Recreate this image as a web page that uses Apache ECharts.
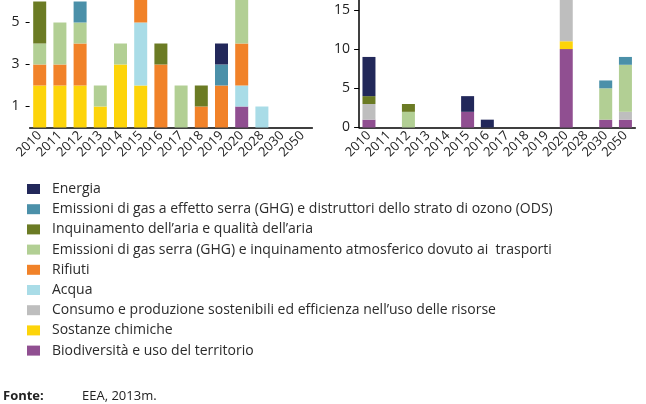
<!DOCTYPE html>
<html>
<head>
<meta charset="utf-8">
<script src="https://cdn.jsdelivr.net/npm/echarts@6/dist/echarts.min.js"></script>
<style>
html,body{margin:0;padding:0;background:#fff;}
#c{width:646px;height:404px;}
</style>
</head>
<body>
<div id="c"></div>
<script>
// Categories (years), same for both panels
var categories = ['2010','2011','2012','2013','2014','2015','2016','2017','2018','2019','2020','2028','2030','2050'];

// Series names (stack order bottom -> top)
var seriesNames = [
  'Biodiversità e uso del territorio',
  'Sostanze chimiche',
  'Consumo e produzione sostenibili ed efficienza nell\u2019uso delle risorse',
  'Acqua',
  'Rifiuti',
  'Emissioni di gas serra (GHG) e inquinamento atmosferico dovuto ai  trasporti',
  'Inquinamento dell\u2019aria e qualità dell\u2019aria',
  'Emissioni di gas a effetto serra (GHG) e distruttori dello strato di ozono (ODS)',
  'Energia'
];
var seriesColors = ['#904f91','#fdd40a','#bebebe','#a9dce7','#f18229','#b2cf94','#6b7b24','#4b90a9','#22285a'];

// Left panel values
var leftBiodiversita = [0,0,0,0,0,0,0,0,0,0,1,0,0,0];
var leftSostanze     = [2,2,2,1,3,2,0,0,0,0,0,0,0,0];
var leftConsumo      = [0,0,0,0,0,0,0,0,0,0,0,0,0,0];
var leftAcqua        = [0,0,0,0,0,3,0,0,0,0,1,1,0,0];
var leftRifiuti      = [1,1,2,0,0,2,3,0,1,2,2,0,0,0];
var leftTrasporti    = [1,2,1,1,1,0,0,2,0,0,3,0,0,0];
var leftInquinamento = [2,0,0,0,0,0,1,0,1,0,0,0,0,0];
var leftODS          = [0,0,1,0,0,0,0,0,0,1,0,0,0,0];
var leftEnergia      = [0,0,0,0,0,0,0,0,0,1,0,0,0,0];

// Right panel values
var rightBiodiversita = [1,0,0,0,0,2,0,0,0,0,10,0,1,1];
var rightSostanze     = [0,0,0,0,0,0,0,0,0,0,1,0,0,0];
var rightConsumo      = [2,0,0,0,0,0,0,0,0,0,7,0,0,1];
var rightAcqua        = [0,0,0,0,0,0,0,0,0,0,0,0,0,0];
var rightRifiuti      = [0,0,0,0,0,0,0,0,0,0,0,0,0,0];
var rightTrasporti    = [0,0,2,0,0,0,0,0,0,0,0,0,4,6];
var rightInquinamento = [1,0,1,0,0,0,0,0,0,0,0,0,0,0];
var rightODS          = [0,0,0,0,0,0,0,0,0,0,0,0,1,1];
var rightEnergia      = [5,0,0,0,0,2,1,0,0,0,0,0,0,0];

// Tick labels
var leftTicks = [1,3,5,7];
var rightTicks = [0,5,10,15,20];

var leftData = [leftBiodiversita,leftSostanze,leftConsumo,leftAcqua,leftRifiuti,leftTrasporti,leftInquinamento,leftODS,leftEnergia];
var rightData = [rightBiodiversita,rightSostanze,rightConsumo,rightAcqua,rightRifiuti,rightTrasporti,rightInquinamento,rightODS,rightEnergia];

var FONT = '"Open Sans", "Noto Sans", sans-serif';
var chart = echarts.init(document.getElementById('c'), null, {renderer:'canvas'});

var series = [];
seriesNames.forEach(function(n,i){
  series.push({name:n,type:'bar',stack:'L',xAxisIndex:0,yAxisIndex:0,data:leftData[i],
    barWidth:13,itemStyle:{color:seriesColors[i]},emphasis:{disabled:true}});
});
seriesNames.forEach(function(n,i){
  series.push({name:n,type:'bar',stack:'R',xAxisIndex:1,yAxisIndex:1,data:rightData[i],
    barWidth:13,itemStyle:{color:seriesColors[i]},emphasis:{disabled:true}});
});

var xLabel = {rotate:45,fontSize:13,color:'#222',fontFamily:FONT,margin:6,interval:0};

chart.setOption({
  animation:false,
  textStyle:{fontFamily:FONT},
  grid:[
    {left:29.6,top:-40.5,width:282.8,height:168,outerBoundsMode:'none',containLabel:false},
    {left:359.1,top:-29.3,width:276.2,height:156.8,outerBoundsMode:'none',containLabel:false}
  ],
  xAxis:[
    {type:'category',gridIndex:0,data:categories,axisTick:{show:false},
     axisLine:{lineStyle:{color:'#000',width:1.5}},axisLabel:xLabel},
    {type:'category',gridIndex:1,data:categories,axisTick:{show:false},
     axisLine:{lineStyle:{color:'#000',width:1.5}},axisLabel:xLabel}
  ],
  yAxis:[
    {type:'value',gridIndex:0,min:0,max:8,splitLine:{show:false},
     axisLine:{show:false},
     axisTick:{show:true,length:4,customValues:leftTicks,lineStyle:{color:'#000'}},
     axisLabel:{customValues:leftTicks,fontSize:14,color:'#222',fontFamily:FONT,margin:10}},
    {type:'value',gridIndex:1,min:0,max:20,interval:5,splitLine:{show:false},
     axisLine:{show:true,lineStyle:{color:'#000',width:1.5}},
     axisTick:{show:true,length:5,customValues:rightTicks,lineStyle:{color:'#000'}},
     axisLabel:{customValues:rightTicks,fontSize:14,color:'#222',fontFamily:FONT,margin:9}}
  ],
  legend:{
    orient:'vertical',left:22,top:177,selectedMode:false,
    data:seriesNames.slice().reverse(),
    icon:'rect',itemWidth:13,itemHeight:10,itemGap:6.2,
    textStyle:{fontSize:14,color:'#2b2b2b',fontFamily:FONT,lineHeight:14,padding:[0,0,0,7]}
  },
  graphic:[
    {type:'text',left:3,top:390,style:{text:'Fonte:',font:'bold 13px '+FONT,fill:'#222'}},
    {type:'text',left:82,top:390,style:{text:'EEA, 2013m.',font:'13px '+FONT,fill:'#222'}}
  ],
  series:series
});
</script>
</body>
</html>
